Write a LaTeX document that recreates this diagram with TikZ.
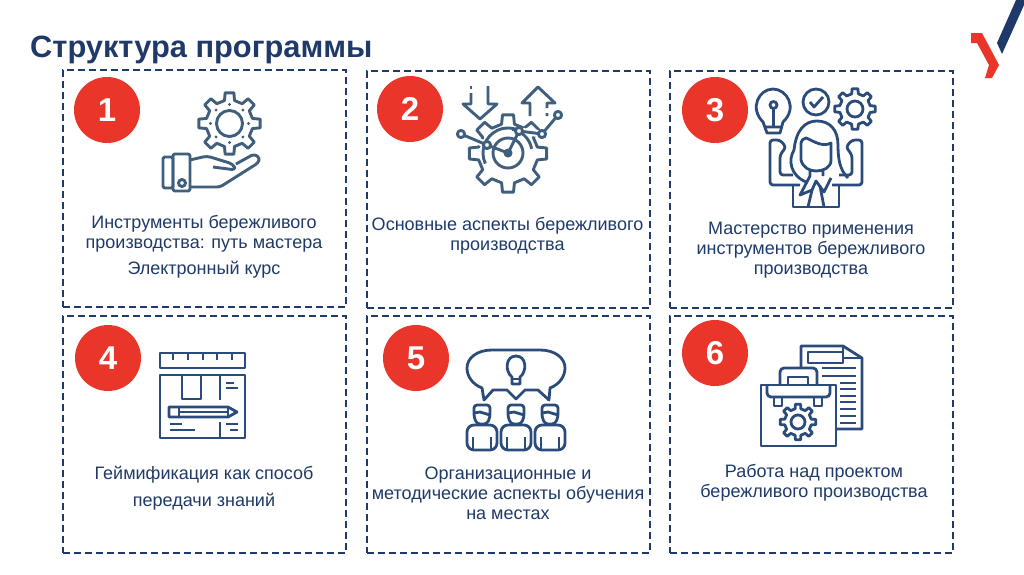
\documentclass[tikz,border=0pt]{standalone}
\usepackage{fontspec}
\setmainfont{Liberation Sans}
\usepackage{tikz}
\usetikzlibrary{positioning,calc}
\definecolor{navy}{HTML}{1F3A68}
\definecolor{iconblue}{HTML}{2B4C7A}
\definecolor{iconslate}{HTML}{3F5F7D}
\definecolor{markred}{HTML}{E9352A}
\tikzset{
  dashbox/.style={draw=navy,line width=2pt,dash pattern=on 7pt off 4pt,minimum width=283pt,minimum height=237pt,inner sep=0pt},
  numdot/.style={circle,fill=markred,text=white,minimum size=66pt,inner sep=0pt,font=\fontsize{33}{33}\selectfont\bfseries},
  caption/.style={text=navy,align=center,inner sep=0pt,font=\fontsize{18}{20}\selectfont},
  icon/.style={draw=iconblue,line width=2.8pt,line join=round,fill=none},
  slate/.style={draw=iconslate,line width=2.9pt,line join=round,fill=none},
  pics/gearicon/.style n args={4}{code={
    % teeth, outer radius, root radius, hub radius
    \pgfmathsetmacro\st{360/#1}
    \pgfmathsetmacro\hs{180/#1}
    \path[pic actions] ({-0.55*\hs}:#3) \foreach \k in {1,...,#1} {
      -- ({(\k-1)*\st-0.36*\hs}:#2) -- ({(\k-1)*\st+0.36*\hs}:#2) -- ({(\k-1)*\st+0.55*\hs}:#3) -- ({\k*\st-0.55*\hs}:#3)
    } -- cycle;
    \path[pic actions] (0,0) circle (#4);
  }},
  pics/personicon/.style={code={
    \path[pic actions,rounded corners=7pt] (-15,0) -- (-15,-25) -- (15,-25) -- (15,0) -- cycle;
    \path[pic actions,rounded corners=3pt] (-8,-33) -- (-8,-45) -- (8,-45) -- (8,-33) -- (5,-26) -- (-5,-26) -- cycle;
    \path[pic actions] (-8,-37) -- (-2,-38) -- (8,-35);
    \path[pic actions] (-9,-13) -- (-9,0) (9,-13) -- (9,0);
  }}
}
\begin{document}
\begin{tikzpicture}[x=1pt,y=-1pt]
  \path[use as bounding box,fill=white] (0,0) rectangle (1024,574);
  % title and corner mark
  \node[anchor=base west,inner sep=0pt,text=navy,font=\fontsize{30.8}{32}\selectfont\bfseries] (title) at (30,57) {Структура программы};
  \fill[markred] (971,33) -- (982,33) -- (999,65) -- (992,78) -- (985,78) -- (989,65) -- (977,43) -- (971,43) -- cycle;
  \fill[navy] (1016,0) -- (1024,0) -- (1024,5) -- (1002,54) -- (997,43) -- cycle;
  % Draw the 6 boxes and their numbers
  \foreach \n/\bx/\by/\cx/\cy in {1/204.5/188.5/107/110,2/508/189/410/109,3/811/189/715/110,4/204.5/434.5/108/358,5/508/434.5/416/358,6/811.5/434.5/715/353} {
    \node[dashbox] (box\n) at (\bx,\by) {};
    \node[numdot] (num\n) at (\cx,\cy) {\n};
  }
  % captions
  \node[caption] (text1) at (204,234) {Инструменты бережливого\\производства: путь мастера};
  \node[caption] (course) at (204,270) {Электронный курс};
  \node[caption] (text2) at (507.5,236) {Основные аспекты бережливого\\производства};
  \node[caption] (text3) at (811,250) {Мастерство применения\\инструментов бережливого\\производства};
  \node[caption] (text4) at (204,475) {Геймификация как способ};
  \node[caption] (text4b) at (204,502) {передачи знаний};
  \node[caption] (text5) at (508,493) {Организационные и\\методические аспекты обучения\\на местах};
  \node[caption] (text6) at (814,483) {Работа над проектом\\бережливого производства};
  % icon 1, hand and gear
  \pic[slate] at (229.5,123.5) {gearicon={8}{31}{23.5}{13}};
  \foreach \a in {0,45,...,315} {
    \fill[iconslate] ($(229.5,123.5)+(\a:19)$) circle (1.6);
  }
  \draw[slate,rounded corners=1.5pt] (173,157) rectangle (163,188);
  \draw[slate,rounded corners=2pt] (173,154) rectangle (190,191);
  \draw[slate] (182,183) circle (3.5);
  \draw[slate,rounded corners=4pt] (190,160) -- (207,156) -- (233,164) -- (236,170) -- (213,167);
  \draw[slate,rounded corners=3pt] (236,164) -- (254,154) -- (260,158) -- (258,163) -- (220,187) -- (190,187);
  % icon 2, gear with chart
  \draw[slate] (471,93) -- (471,104) -- (463,104) -- (480,119) -- (497,104) -- (488,104) -- (488,86);
  \draw[slate] (471,86) -- (471,89);
  \draw[slate] (530,116) -- (530,103) -- (522,103) -- (538,87) -- (555,103) -- (547,103) -- (547,108) (547,113) -- (547,116);
  \pic[slate] at (508,153.5) {gearicon={8}{39}{30}{15}};
  \draw[white,line width=7pt] (461,134) -- (487,145) -- (508,153) -- (519,131) -- (542,134) -- (558,115);
  \draw[white,line width=7pt] (508,153) circle (15);
  \draw[slate] (508,153) circle (15);
  \draw[slate] (461,134) -- (487,145) -- (508,153) -- (519,131) -- (542,134) -- (558,115);
  \draw[slate] (508,153) ++(155:25) arc (155:300:25);
  \draw[slate] (508,153) ++(-80:24) arc (-80:-10:24);
  \draw[slate,fill=iconslate] (508,153) circle (3);
  \foreach \p/\q in {461/134,487/145,519/131,542/134,558/115} {
    \draw[slate,fill=white] (\p,\q) circle (3.6);
  }
  % icon 3, woman with idea
  \draw[icon] (767,133) -- (763,122) .. controls (749,108) and (759,89) .. (773,89) .. controls (787,89) and (798,108) .. (783,122) -- (780,133) -- (776,133) -- (770,133) -- cycle;
  \draw[icon] (773.5,105) circle (3.5) (773.5,109) -- (773.5,127) (766,127) -- (781,127);
  \draw[icon] (816,102) circle (13);
  \draw[icon] (810,102) -- (814,107) -- (823,97);
  \pic[icon] at (855,109) {gearicon={8}{20.5}{15.5}{8}};
  \draw[icon] (806,182) .. controls (790,175) and (788,160) .. (794,150) .. controls (796,130) and (805,121) .. (817,121) .. controls (830,121) and (838,130) .. (838,145) .. controls (838,160) and (840,170) .. (848,178);
  \draw[icon] (801,143) -- (801,160) .. controls (803,168) and (810,171) .. (816,171) .. controls (823,171) and (831,168) .. (831,160) -- (831,143) .. controls (822,148) and (812,140) .. (806,138) .. controls (803,139) and (801,140) .. (801,143) -- cycle;
  \draw[icon] (810,171) -- (810,176) -- (800,195) -- (812,190) -- (816,181) -- (824,192) -- (831,178) (823,171) -- (823,176);
  \draw[icon] (812,190) -- (808,207) (820,186) -- (824,207);
  \draw[icon] (793,186) -- (793,207) -- (839,207) -- (839,186);
  \draw[icon,rounded corners=3pt] (800,185) -- (770,185) -- (770,140) -- (780,140) -- (786,147) -- (780,155) -- (780,175) -- (793,175);
  \draw[icon,rounded corners=3pt] (832,185) -- (862,185) -- (862,140) -- (852,140) -- (846,147) -- (852,155) -- (852,175) -- (839,175);
  % icon 4, ruler, pencil and drawing board
  \draw[icon] (160,353) rectangle (245,368);
  \foreach \x in {173,188,203,217,232} {
    \draw[icon] (\x,353) -- (\x,360);
  }
  \draw[icon] (160,375) rectangle (245,438);
  \draw[icon] (182,375) -- (182,399) -- (201,399) -- (201,375);
  \draw[icon] (220,375) -- (220,400) (220,422) -- (220,438);
  \draw[icon] (226,383) -- (234,383) (226,388) -- (238,388) (226,424) -- (238,424) (230,430) -- (238,430);
  \draw[icon] (170,424) -- (182,424) (170,430) -- (195,430);
  \draw[icon] (169,407) -- (228,407) -- (237,412) -- (228,417) -- (169,417) -- cycle;
  \draw[icon] (179,407) -- (179,417) (179,412) -- (228,412) (228,407) -- (228,417);
  % icon 5, three people and shared idea
  \draw[icon] (493,390) -- (507,390) -- (516,399) -- (525,390) -- (538,390) -- (549,400) -- (550,388) .. controls (560,384) and (565,376) .. (565,368) .. controls (565,358) and (555,350) .. (540,350) -- (492,350) .. controls (477,350) and (467,358) .. (467,368) .. controls (467,376) and (472,384) .. (482,388) -- (484,400) -- cycle;
  \draw[icon] (512,384) -- (520,384) -- (520,377) .. controls (527,372) and (527,356) .. (516,356) .. controls (505,356) and (505,372) .. (512,377) -- cycle;
  \draw[icon] (512,379) -- (520,379);
  \foreach \x in {482,516,550} {
    \pic[icon] at (\x,450) {personicon};
  }
  % icon 6, case and document
  \draw[icon] (801,368) -- (801,346) -- (843,346) -- (862,358) -- (862,429) -- (837,429);
  \draw[icon] (843,346) -- (843,358) -- (862,358);
  \draw[icon] (808,352) rectangle (843,363);
  \draw[icon] (822,368) -- (856,368) (822,376) -- (856,376);
  \foreach \y in {383,389,396,402,409,416,423} {
    \draw[icon] (840,\y) -- (856,\y);
  }
  \draw[icon] (761,385) rectangle (836,446);
  \draw[icon,rounded corners=4pt] (780,385) -- (780,368) -- (817,368) -- (817,385);
  \draw[icon] (788,385) -- (788,377) -- (808,377) -- (808,385);
  \draw[icon,rounded corners=4pt] (767,385) -- (767,397) -- (830,397) -- (830,385);
  \draw[icon] (774,397) -- (774,406) -- (782,406) -- (782,397);
  \draw[icon] (814,397) -- (814,406) -- (822,406) -- (822,397);
  \pic[icon] at (798,422) {gearicon={8}{18}{13.5}{7}};
\end{tikzpicture}
\end{document}
